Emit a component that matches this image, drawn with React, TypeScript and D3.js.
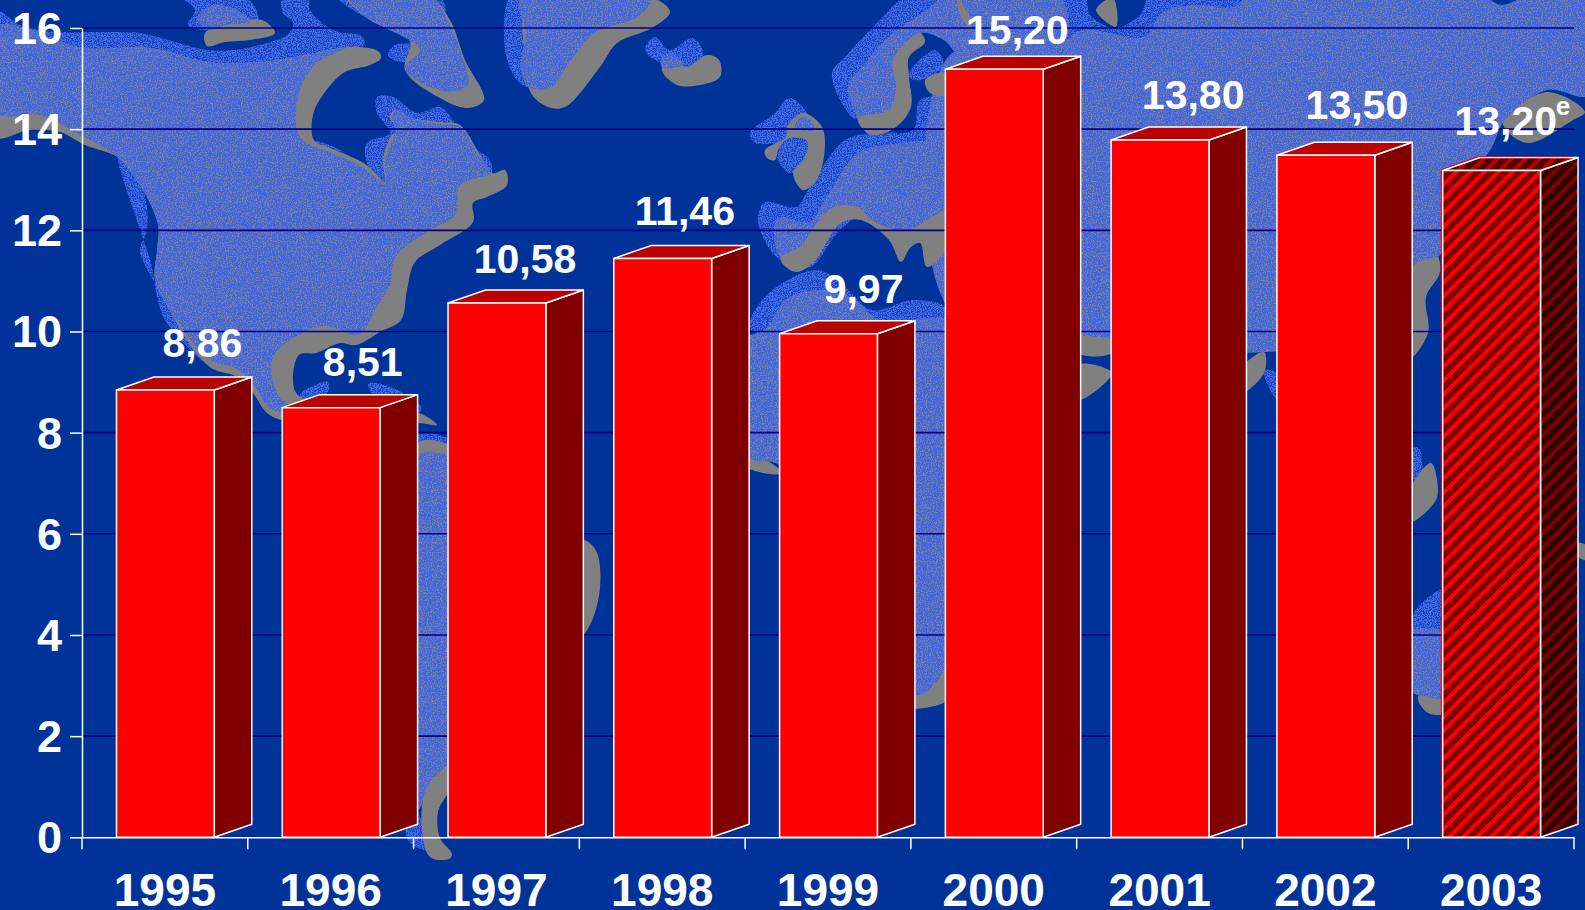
import * as d3 from 'd3';
import React, { useEffect, useRef } from 'react';

const years = ['1995', '1996', '1997', '1998', '1999', '2000', '2001', '2002', '2003'];
const values = [8.86, 8.51, 10.58, 11.46, 9.97, 15.2, 13.8, 13.5, 13.2];
const valueLabels = ['8,86', '8,51', '10,58', '11,46', '9,97', '15,20', '13,80', '13,50', '13,20'];
const yTicks = [0, 2, 4, 6, 8, 10, 12, 14, 16];
const estimatedYear = '2003';

// labels were placed by hand in the original, so they don't follow a rule
const labelDx = [86, 80.5, 77, 71, 84, 72, 82, 80, 63];
const labelDy = [32, 31, 29, 32.5, 30, 24.5, 30, 35, 35];

type Pt = [number, number];

// background map outlines, page pixels
const shelf: Pt[][] = [
  [[0, 12], [20, 25], [60, 32], [100, 32], [140, 33], [175, 42], [207, 50], [235, 50], [267, 43], [287, 35], [293, 23], [283, 13], [283, -5], [308, -5], [310, 10], [333, 30], [363, 37], [363, 47], [333, 53], [267, 67], [200, 63], [133, 53], [67, 47], [0, 33]],
  [[188, 25], [195, 10], [183, -3], [245, -3], [258, 20], [210, 30]],
  [[338, -3], [440, -3], [445, 20], [430, 40], [428, 55], [400, 62], [388, 55], [395, 45], [410, 42], [370, 20]],
  [[377, 97], [393, 97], [417, 113], [440, 107], [455, 123], [473, 147], [490, 160], [490, 177], [383, 183], [367, 163], [367, 143], [390, 133], [377, 113]],
  [[315, 142], [340, 150], [360, 165], [370, 165], [380, 182], [330, 172]],
  [[118, 156], [143, 190], [147, 230], [140, 250], [155, 283], [170, 307], [200, 345], [215, 370], [165, 320], [150, 260]],
  [[300, 395], [318, 384], [328, 382], [328, 392], [310, 402]],
  [[368, 384], [385, 385], [420, 405], [420, 412], [380, 402]],
  [[412, 435], [450, 440], [450, 460], [412, 460]],
  [[410, 800], [430, 850], [408, 840]],
  [[510, -3], [505, 50], [517, 80], [530, 87], [530, 30], [525, -3]],
  [[645, 50], [655, 37], [669, 50], [693, 38], [703, 53], [696, 67], [662, 63]],
  [[750, 133], [775, 113], [789, 98], [805, 110], [810, 140], [805, 160], [790, 173], [778, 160], [778, 145], [755, 143]],
  [[832, 73], [845, 57], [880, 20], [906, -3], [950, -3], [900, 50], [895, 100], [858, 120], [843, 105]],
  [[909, 73], [934, 50], [942, 57], [942, 68], [920, 80], [910, 78]],
  [[758, 217], [765, 202], [796, 207], [810, 187], [845, 140], [879, 133], [913, 130], [920, 100], [945, 100], [945, 150], [840, 230], [810, 267], [780, 260], [762, 235]],
  [[930, 258], [950, 255], [950, 270], [940, 268]],
  [[751, 330], [765, 297], [817, 270], [845, 287], [872, 310], [913, 300], [945, 307], [945, 330]],
  [[1050, 55], [1060, -3], [1085, -3], [1090, 15], [1115, 28], [1140, 15], [1150, -3], [1240, -3], [1231, 10], [1150, 40], [1085, 38]],
  [[1264, 370], [1279, 375], [1279, 402], [1268, 385]],
  [[1414, 447], [1420, 450], [1420, 495], [1414, 490]],
  [[1443, 590], [1414, 613], [1414, 633], [1443, 633]],
];

const coast: Pt[][] = [
  [[-5, 27], [83, 48], [150, 48], [207, 62], [250, 63], [290, 58], [320, 52], [350, 47], [378, 51], [381, 58], [370, 65], [345, 72], [325, 92], [313, 115], [314, 140], [330, 148], [362, 162], [372, 170], [385, 182], [383, 160], [392, 135], [400, 130], [390, 118], [395, 110], [412, 118], [440, 122], [460, 125], [480, 155], [492, 173], [505, 170], [507, 185], [487, 197], [473, 203], [473, 222], [440, 245], [415, 262], [407, 290], [401, 320], [380, 332], [356, 345], [340, 343], [316, 353], [299, 355], [293, 380], [298, 395], [345, 405], [419, 413], [437, 425], [419, 423], [273, 417], [253, 393], [237, 377], [210, 367], [175, 320], [165, 290], [170, 250], [170, 225], [150, 185], [120, 158], [85, 145], [60, 132], [30, 130], [-5, 137]],
  [[205, 33], [225, 25], [262, 20], [275, 33], [250, 40], [225, 42], [207, 46]],
  [[347, -3], [430, -3], [450, 20], [465, 60], [484, 100], [468, 108], [440, 98], [405, 70], [410, 40], [370, 20]],
  [[530, -3], [651, -3], [670, 12], [652, 28], [617, 43], [600, 67], [565, 107], [548, 107], [531, 93], [525, 60]],
  [[662, 70], [672, 53], [686, 67], [707, 55], [719, 60], [720, 77], [700, 85], [677, 85]],
  [[787, 127], [803, 113], [822, 127], [824, 157], [815, 182], [803, 190], [793, 173], [803, 160], [808, 147], [806, 140], [789, 138], [779, 148], [775, 160], [767, 158], [765, 150], [786, 137]],
  [[415, 445], [450, 445], [560, 530], [592, 545], [600, 567], [590, 625], [500, 720], [447, 795], [438, 812], [440, 838], [452, 854], [449, 859], [430, 857], [422, 830], [423, 797], [430, 770]],
  [[745, 452], [780, 470], [780, 474], [745, 466]],
  [[905, 690], [944, 665], [946, 700], [930, 707], [905, 707]],
  [[1078, 335], [1112, 338], [1112, 353], [1078, 353]],
  [[1078, 365], [1112, 373], [1078, 400]],
  [[1264, 352], [1264, 373], [1240, 394], [1240, 370]],
  [[1410, 268], [1426, 253], [1436, 253], [1440, 272], [1426, 297], [1428, 333], [1410, 358]],
  [[1503, 123], [1547, 92], [1585, 112], [1573, 120], [1527, 143]],
  [[1431, 463], [1437, 480], [1436, 500], [1410, 522], [1410, 490]],
  [[1418, 697], [1445, 690], [1445, 713], [1428, 713]],
  [[1578, 543], [1590, 548], [1590, 560], [1578, 557]],
  [[1096, 10], [1113, -2], [1116, 27]],
];

const land: Pt[][] = [
  [[-5, 27], [83, 48], [150, 48], [207, 62], [250, 63], [290, 58], [320, 52], [345, 48], [315, 65], [300, 90], [297, 130], [305, 142], [330, 152], [362, 167], [372, 175], [385, 183], [385, 160], [395, 130], [392, 118], [397, 110], [412, 118], [440, 124], [460, 127], [478, 155], [490, 173], [460, 185], [455, 215], [425, 233], [395, 258], [390, 285], [378, 305], [358, 335], [325, 326], [290, 340], [272, 360], [278, 395], [295, 410], [272, 410], [250, 380], [235, 368], [210, 360], [170, 310], [155, 280], [157, 250], [158, 225], [140, 185], [115, 155], [80, 135], [40, 115], [-5, 113]],
  [[197, 18], [215, 5], [240, 12], [250, 22], [225, 25], [210, 30]],
  [[350, -3], [430, -3], [450, 25], [460, 50], [468, 85], [450, 92], [420, 82], [405, 68], [420, 50], [410, 40], [380, 25], [360, 12]],
  [[521, -3], [651, -3], [638, 17], [596, 32], [569, 63], [552, 87], [529, 87], [521, 67], [526, 33]],
  [[662, 67], [662, 58], [672, 53], [683, 65]],
  [[795, 125], [803, 116], [812, 122], [814, 130], [795, 128]],
  [[848, 87], [862, 67], [889, 37], [927, 10], [944, -3], [1060, -3], [1060, 55], [960, 55], [944, 40], [920, 33], [905, 52], [908, 75], [910, 105], [895, 125], [870, 135], [858, 118]],
  [[774, 233], [779, 218], [810, 222], [827, 197], [858, 153], [886, 145], [950, 147], [950, 213], [906, 230], [872, 220], [858, 207], [834, 207], [817, 223], [800, 247], [781, 257]],
  [[742, 340], [765, 330], [786, 300], [820, 290], [855, 300], [879, 320], [944, 318], [1000, 330], [950, 500], [944, 670], [915, 695], [890, 600], [780, 465], [750, 458], [740, 400]],
  [[1068, 40], [1085, 30], [1144, 37], [1162, 13], [1196, 5], [1231, 8], [1249, -3], [1481, -3], [1502, 5], [1527, -3], [1590, -3], [1590, 95], [1547, 90], [1505, 120], [1490, 150], [1450, 200], [1445, 240], [1440, 255], [1414, 265], [1408, 300], [1405, 330], [1264, 352], [1200, 350], [1109, 338], [1082, 335], [950, 310], [950, 55], [1060, 55]],
  [[415, 458], [450, 455], [560, 535], [580, 560], [570, 650], [447, 765], [428, 785], [418, 810], [405, 800]],
  [[1410, 633], [1445, 633], [1445, 697], [1428, 697], [1410, 690]],
];

// grey that sits on top of the land
const coastTop: Pt[][] = [
  [[893, 60], [920, 33], [925, 42], [909, 57], [909, 77], [911, 107], [896, 127], [875, 135], [862, 128], [858, 118], [889, 110], [896, 87]],
  [[925, 80], [944, 73], [945, 95], [930, 93]],
  [[957, -3], [972, 23], [970, 28], [960, 15]],
  [[781, 257], [800, 247], [817, 223], [834, 207], [858, 207], [872, 220], [906, 230], [950, 210], [950, 243], [927, 267], [920, 243], [910, 248], [901, 262], [889, 240], [861, 220], [841, 223], [813, 263], [796, 272], [782, 263]],
];

const LineStyle = { white: '#ffffff', grid: '#000080', bg: '#003399' };

const App: React.FC = () => {
  const svgRef = useRef<SVGSVGElement | null>(null);

  useEffect(() => {
    const svg = d3.select(svgRef.current);
    const width = 1585;
    const height = 910;
    const margin = { top: 28, right: 11, bottom: 73, left: 82 };
    const depthX = 37.5;
    const depthY = 13;
    const topNudge = 0.8;
    const font = '"Liberation Sans", Arial, sans-serif';

    svg.selectAll('*').remove();
    svg
      .attr('viewBox', `0 0 ${width} ${height}`)
      .attr('width', width)
      .attr('height', height)
      .style('position', 'fixed')
      .style('left', 0)
      .style('top', 0)
      .style('display', 'block');

    const x = d3.scaleBand<string>().domain(years).range([margin.left, width - margin.right]);
    const y = d3.scaleLinear().domain([0, 16]).range([height - margin.bottom + 0.3, margin.top]);
    const barOffset = x.bandwidth() * 0.208;
    const barWidth = x.bandwidth() * 0.59;

    const defs = svg.append('defs');

    const speck = (id: string, r: number, g: number, b: number, k: number, t: number, seed: number) => {
      const f = defs
        .append('filter')
        .attr('id', id)
        .attr('x', 0)
        .attr('y', 0)
        .attr('width', width)
        .attr('height', height)
        .attr('filterUnits', 'userSpaceOnUse')
        .attr('color-interpolation-filters', 'sRGB');
      f.append('feTurbulence')
        .attr('type', 'fractalNoise')
        .attr('baseFrequency', 0.8)
        .attr('numOctaves', 2)
        .attr('seed', seed)
        .attr('result', 'noise');
      f.append('feColorMatrix')
        .attr('in', 'noise')
        .attr('type', 'matrix')
        .attr('values', `0 0 0 0 ${r}  0 0 0 0 ${g}  0 0 0 0 ${b}  ${k} 0 0 0 ${t}`)
        .attr('result', 'dots');
      f.append('feComposite')
        .attr('in', 'dots')
        .attr('in2', 'SourceAlpha')
        .attr('operator', 'in')
        .attr('result', 'clipped');
      const m = f.append('feMerge');
      m.append('feMergeNode').attr('in', 'SourceGraphic');
      m.append('feMergeNode').attr('in', 'clipped');
    };
    speck('landSpeck', 0.24, 0.4, 0.93, 10, -3.95, 3);
    speck('shelfSpeck', 0.25, 0.42, 0.93, 10, -4.4, 8);

    const hatch = (id: string, dark: string, bright: string) => {
      const p = defs
        .append('pattern')
        .attr('id', id)
        .attr('patternUnits', 'userSpaceOnUse')
        .attr('width', 9.9)
        .attr('height', 9.9)
        .attr('patternTransform', 'rotate(45)');
      p.append('rect').attr('width', 9.9).attr('height', 9.9).attr('fill', dark);
      p.append('rect').attr('x', 1).attr('width', 4).attr('height', 9.9).attr('fill', bright);
    };
    hatch('hatchFront', '#800000', '#ff0000');
    hatch('hatchSide', '#300000', '#800000');
    hatch('hatchTop', '#500000', '#b80000');

    svg.append('rect').attr('width', width).attr('height', height).attr('fill', LineStyle.bg);

    // map
    const outline = d3
      .line<Pt>()
      .x((d) => d[0])
      .y((d) => d[1])
      .curve(d3.curveCatmullRomClosed.alpha(0.5));
    const map = svg.append('g');
    map
      .append('g')
      .attr('filter', 'url(#shelfSpeck)')
      .selectAll('path')
      .data(shelf)
      .join('path')
      .attr('fill', '#1b45b8')
      .attr('d', (d) => outline(d));
    map
      .append('g')
      .selectAll('path')
      .data(coast)
      .join('path')
      .attr('fill', '#808080')
      .attr('d', (d) => outline(d));
    map
      .append('g')
      .attr('filter', 'url(#landSpeck)')
      .selectAll('path')
      .data(land)
      .join('path')
      .attr('fill', '#808080')
      .attr('d', (d) => outline(d));
    map
      .append('g')
      .selectAll('path')
      .data(coastTop)
      .join('path')
      .attr('fill', '#808080')
      .attr('d', (d) => outline(d));

    // grid
    svg
      .append('g')
      .selectAll('line')
      .data(yTicks.slice(1))
      .join('line')
      .attr('x1', margin.left)
      .attr('x2', width - margin.right)
      .attr('y1', (d) => y(d))
      .attr('y2', (d) => y(d))
      .attr('stroke', LineStyle.grid)
      .attr('stroke-width', 1.6);

    // bars
    const rows = years.map((year, i) => ({ year, value: values[i] }));
    const bars = svg
      .append('g')
      .selectAll('g')
      .data(rows)
      .join('g')
      .attr('stroke', LineStyle.white)
      .attr('stroke-width', 1.5)
      .attr('stroke-linejoin', 'round');

    const fillOf = (d: { year: string }, solid: string, hatched: string) =>
      d.year === estimatedYear ? `url(#${hatched})` : solid;
    const topOf = (v: number) => y(v) + topNudge;

    bars
      .append('path')
      .attr('fill', (d) => fillOf(d, '#800000', 'hatchSide'))
      .attr('d', (d) => {
        const x1 = x(d.year)! + barOffset + barWidth;
        return `M${x1},${topOf(d.value)}L${x1 + depthX},${topOf(d.value) - depthY}L${x1 + depthX},${y(0) - depthY}L${x1},${y(0)}Z`;
      });
    bars
      .append('path')
      .attr('fill', (d) => fillOf(d, '#bb0000', 'hatchTop'))
      .attr('d', (d) => {
        const x0 = x(d.year)! + barOffset;
        return `M${x0},${topOf(d.value)}L${x0 + depthX},${topOf(d.value) - depthY}L${x0 + barWidth + depthX},${topOf(d.value) - depthY}L${x0 + barWidth},${topOf(d.value)}Z`;
      });
    bars
      .append('rect')
      .attr('fill', (d) => fillOf(d, '#ff0000', 'hatchFront'))
      .attr('x', (d) => x(d.year)! + barOffset)
      .attr('y', (d) => topOf(d.value))
      .attr('width', barWidth)
      .attr('height', (d) => y(0) - topOf(d.value));

    // thin red rim on the estimated bar's left and upper edge
    const estimate = rows[rows.length - 1];
    const rimX = x(estimate.year)! + barOffset - 1.3;
    const rimY = topOf(estimate.value) - 1;
    svg
      .append('path')
      .attr('fill', 'none')
      .attr('stroke', '#ff0000')
      .attr('stroke-width', 1)
      .attr('d', `M${rimX},${y(0)}L${rimX},${rimY}L${rimX + depthX},${rimY - depthY}L${rimX + barWidth + depthX - 4},${rimY - depthY}`);

    // axes
    const yAxis = svg
      .append('g')
      .attr('transform', `translate(${margin.left},0)`)
      .call(d3.axisLeft(y).tickValues(yTicks).tickSize(12).tickSizeOuter(0).tickPadding(8).tickFormat(d3.format('d')));
    const xAxis = svg
      .append('g')
      .attr('transform', `translate(0,${y(0)})`)
      .call(d3.axisBottom(x).tickSize(0).tickSizeOuter(0));

    xAxis
      .selectAll('.tickmark')
      .data([...years.map((yr) => x(yr)!), width - margin.right])
      .join('line')
      .attr('class', 'tickmark')
      .attr('x1', (d) => d)
      .attr('x2', (d) => d)
      .attr('y2', 12)
      .attr('stroke', LineStyle.white)
      .attr('stroke-width', 1.5);

    [yAxis, xAxis].forEach((a) => {
      a.selectAll('path.domain').attr('stroke', LineStyle.white).attr('stroke-width', 1.5);
      a.selectAll('.tick line').attr('stroke', LineStyle.white).attr('stroke-width', 1.5);
      a.selectAll('text')
        .attr('fill', LineStyle.white)
        .style('font-family', font)
        .style('font-weight', 700)
        .style('font-size', '45px');
    });
    yAxis.selectAll('text').attr('dy', '15.5px');
    xAxis.selectAll('.tick text').attr('y', 0).attr('dy', '69px').style('font-size', '46px');

    // value labels
    svg
      .append('g')
      .selectAll('text')
      .data(rows)
      .join('text')
      .attr('x', (d, i) => x(d.year)! + barOffset + labelDx[i])
      .attr('y', (d, i) => y(d.value) - labelDy[i])
      .attr('text-anchor', 'middle')
      .attr('fill', LineStyle.white)
      .style('font-family', font)
      .style('font-weight', 700)
      .style('font-size', '41px')
      .text((d, i) => valueLabels[i]);

    svg
      .append('text')
      .attr('x', x(estimatedYear)! + barOffset + 113)
      .attr('y', 115)
      .attr('fill', LineStyle.white)
      .style('font-family', font)
      .style('font-weight', 700)
      .style('font-size', '26px')
      .text('e');
  }, []);

  return <svg ref={svgRef}></svg>;
};

export default App;
